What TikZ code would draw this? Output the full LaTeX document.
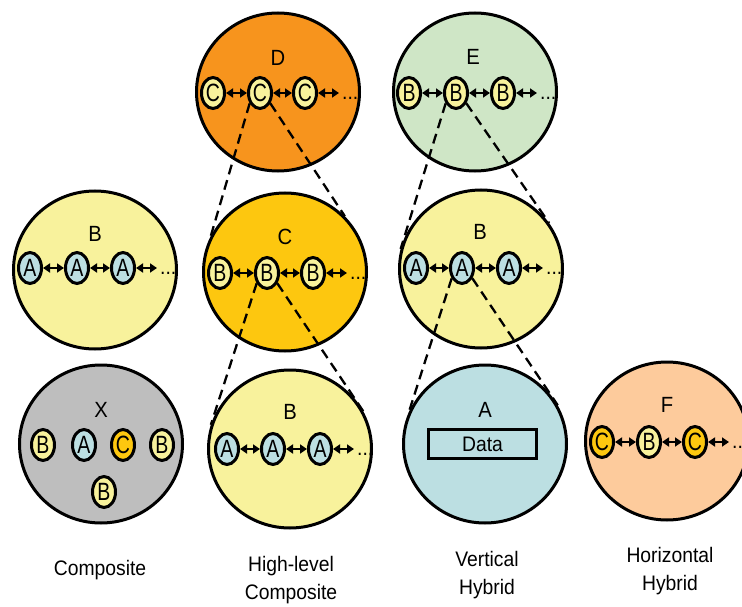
\documentclass[tikz,border=0pt]{standalone}
\usepackage{fontspec}
\setmainfont{Liberation Sans}[FakeStretch=0.92]
\newfontfamily\narrowf{Liberation Sans}[FakeStretch=0.78]
\usetikzlibrary{shapes.geometric,arrows.meta}
\definecolor{cD}{HTML}{F7941D}
\definecolor{cE}{HTML}{CFE6C6}
\definecolor{cC}{HTML}{FDC70F}
\definecolor{cB}{HTML}{F8F29C}
\definecolor{cX}{HTML}{BEBEBE}
\definecolor{cA}{HTML}{BCDFE2}
\definecolor{cF}{HTML}{FDCB9C}
\tikzset{
  big/.style={ellipse, draw, line width=3pt, minimum width=163pt, minimum height=158pt, inner sep=0pt},
  small/.style={ellipse, draw, line width=3pt, minimum width=23pt, minimum height=31pt, inner sep=0pt, font=\narrowf\fontsize{25}{25}\selectfont},
  lbl/.style={font=\fontsize{22}{22}\selectfont, inner sep=0pt},
  dar/.style={{Triangle[length=7pt,width=9pt]}-{Triangle[length=7pt,width=9pt]}, line width=2.4pt},
  dsh/.style={dash pattern=on 10pt off 6pt, line width=2.3pt},
  dotsn/.style={anchor=base west, font=\fontsize{21}{21}\selectfont, inner sep=0pt},
  capt/.style={font=\fontsize{21}{28}\selectfont, align=center, inner sep=0pt}
}
\begin{document}
\begin{tikzpicture}[x=1pt,y=-1pt]
\useasboundingbox (0,0) rectangle (742,607);
\clip (0,0) rectangle (742,607);
% big circles
\node[big, fill=cD] (D) at (278,92) {};
\node[big, fill=cE] (E) at (475,92) {};
\node[big, fill=cB] (B1) at (95,270) {};
\node[big, fill=cC] (C) at (285,272) {};
\node[big, fill=cB] (B2) at (481,269) {};
\node[big, fill=cX] (X) at (101,444) {};
\node[big, fill=cB] (B3) at (290,449) {};
\node[big, fill=cA] (A) at (485,444) {};
\node[big, fill=cF] (F) at (667,441) {};
% labels
\node[lbl] (lD) at (278,58) {D};
\node[lbl] (lE) at (473,57) {E};
\node[lbl] (lB1) at (95,234) {B};
\node[lbl] (lC) at (285,237) {C};
\node[lbl] (lB2) at (480,232) {B};
\node[lbl] (lX) at (101,410) {X};
\node[lbl] (lB3) at (290,412) {B};
\node[lbl] (lA) at (485,410) {A};
\node[lbl] (lF) at (667,405) {F};
% D chain
\node[small, fill=cB] (d1) at (213,93) {C};
\node[small, fill=cB] (d2) at (260,93) {C};
\node[small, fill=cB] (d3) at (305,93) {C};
\node[dotsn] (dd) at (342,99.5) {...};
\draw[dar] (d1) -- (d2);
\draw[dar] (d2) -- (d3);
\draw[dar, shorten >=3pt] (d3) -- (d3 -| dd.west);
% E chain
\node[small, fill=cB] (e1) at (409,93) {B};
\node[small, fill=cB] (e2) at (456,93) {B};
\node[small, fill=cB] (e3) at (503,93) {B};
\node[dotsn] (ed) at (540,99.5) {...};
\draw[dar] (e1) -- (e2);
\draw[dar] (e2) -- (e3);
\draw[dar, shorten >=3pt] (e3) -- (e3 -| ed.west);
% B1 chain
\node[small, fill=cA] (a1) at (30,268) {A};
\node[small, fill=cA] (a2) at (77,268) {A};
\node[small, fill=cA] (a3) at (123,268) {A};
\node[dotsn] (ad) at (160,274.5) {...};
\draw[dar] (a1) -- (a2);
\draw[dar] (a2) -- (a3);
\draw[dar, shorten >=3pt] (a3) -- (a3 -| ad.west);
% C chain
\node[small, fill=cB] (c1) at (220,273) {B};
\node[small, fill=cB] (c2) at (267,273) {B};
\node[small, fill=cB] (c3) at (313,273) {B};
\node[dotsn] (cd) at (350,279.5) {...};
\draw[dar] (c1) -- (c2);
\draw[dar] (c2) -- (c3);
\draw[dar, shorten >=3pt] (c3) -- (c3 -| cd.west);
% B2 chain
\node[small, fill=cA] (m1) at (416,268) {A};
\node[small, fill=cA] (m2) at (462,268) {A};
\node[small, fill=cA] (m3) at (509,268) {A};
\node[dotsn] (md) at (546,274.5) {...};
\draw[dar] (m1) -- (m2);
\draw[dar] (m2) -- (m3);
\draw[dar, shorten >=3pt] (m3) -- (m3 -| md.west);
% B3 chain
\node[small, fill=cA] (b1) at (227,449) {A};
\node[small, fill=cA] (b2) at (273,449) {A};
\node[small, fill=cA] (b3) at (320,449) {A};
\node[dotsn] (bd) at (357,455.5) {...};
\draw[dar] (b1) -- (b2);
\draw[dar] (b2) -- (b3);
\draw[dar, shorten >=3pt] (b3) -- (b3 -| bd.west);
% X contents
\node[small, fill=cB] (x1) at (43,445) {B};
\node[small, fill=cA] (x2) at (84,445) {A};
\node[small, fill=cC] (x3) at (123,445) {C};
\node[small, fill=cB] (x4) at (162,445) {B};
\node[small, fill=cB] (x5) at (104,492) {B};
% F chain
\node[small, fill=cC] (f1) at (602,442) {C};
\node[small, fill=cB] (f2) at (649,442) {B};
\node[small, fill=cC] (f3) at (695,442) {C};
\node[dotsn] (fd) at (732,448.5) {...};
\draw[dar] (f1) -- (f2);
\draw[dar] (f2) -- (f3);
\draw[dar, shorten >=3pt] (f3) -- (f3 -| fd.west);
% A contents
\node[draw, line width=2.8pt, minimum width=108pt, minimum height=29pt, inner sep=0pt, font=\fontsize{21}{21}\selectfont] (data) at (482.5,444) {Data};
% dashed zoom lines
\draw[dsh] (d2.225) -- (C.154);
\draw[dsh] (d2.315) -- (C.43);
\draw[dsh] (c2.225) -- (B3.163);
\draw[dsh] (c2.315) -- (B3.27);
\draw[dsh] (e2.225) -- (B2.166);
\draw[dsh] (e2.315) -- (B2.34);
\draw[dsh] (m2.225) -- (A.157);
\draw[dsh] (m2.315) -- (A.28);
% captions
\node[capt] (k1) at (100,570) {Composite};
\node[capt] (k2) at (291,580) {High-level\\Composite};
\node[capt] (k3) at (487,575) {Vertical\\Hybrid};
\node[capt] (k4) at (670,571) {Horizontal\\Hybrid};
\end{tikzpicture}
\end{document}
